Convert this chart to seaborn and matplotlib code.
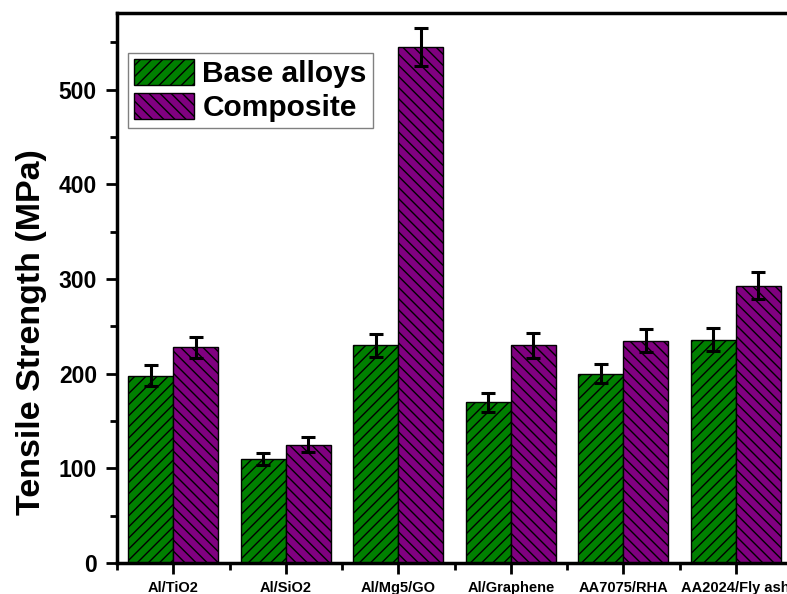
import matplotlib
matplotlib.use("Agg")
import matplotlib.pyplot as plt
from matplotlib.patches import Patch
from matplotlib.ticker import MultipleLocator
import seaborn as sns
import pandas as pd

# Tensile strength of base alloys vs. their composites (MPa)
materials = ["Al/TiO2", "Al/SiO2", "Al/Mg5/GO", "Al/Graphene", "AA7075/RHA", "AA2024/Fly ash"]
base_strength = [198, 110, 230, 170, 200, 236]
composite_strength = [228, 125, 545, 230, 235, 293]
base_error = [11, 6, 12, 10, 10, 12]
composite_error = [11, 8, 20, 13, 12, 14]
groups = ["Base alloys", "Composite"]

df = pd.DataFrame({
    "Material": materials * 2,
    "Group": [groups[0]] * len(materials) + [groups[1]] * len(materials),
    "Strength": base_strength + composite_strength,
})

sns.set_style("white")
plt.rcParams["font.family"] = ["Liberation Sans", "DejaVu Sans"]
plt.rcParams["font.weight"] = "bold"
plt.rcParams["hatch.linewidth"] = 1.0
for key in ["text.color", "axes.labelcolor", "xtick.color", "ytick.color"]:
    plt.rcParams[key] = "black"

colors = {"Base alloys": "#008000", "Composite": "#800080"}
hatches = ["///", "\\\\\\"]

fig = plt.figure(figsize=(7.87, 5.94), dpi=100)
ax = fig.add_axes([0.1487, 0.0522, 0.8577, 0.9258])

sns.barplot(data=df, x="Material", y="Strength", hue="Group", order=materials,
            hue_order=groups, palette=colors, width=0.8, errorbar=None,
            edgecolor="black", linewidth=1.0, saturation=1.0, legend=False, ax=ax)

errors = [base_error, composite_error]
for container, hatch, err in zip(ax.containers, hatches, errors):
    xs, ys = [], []
    for patch in container:
        patch.set_hatch(hatch)
        xs.append(patch.get_x() + patch.get_width() / 2)
        ys.append(patch.get_height())
    ax.errorbar(xs, ys, yerr=err, fmt="none", ecolor="black", elinewidth=2.2,
                capsize=5, capthick=2.2, zorder=5)

ax.set_xlim(-0.5, 5.5)
ax.set_ylim(0, 581)
ax.yaxis.set_major_locator(MultipleLocator(100))
ax.yaxis.set_minor_locator(MultipleLocator(50))
ax.set_xticks(range(len(materials)))
ax.set_xticks([i + 0.5 for i in range(-1, len(materials))], minor=True)
ax.set_xticklabels(materials, fontsize=10.5, fontweight="bold", color="black")
for lbl in ax.get_yticklabels():
    lbl.set_fontsize(16.5)
    lbl.set_fontweight("bold")
    lbl.set_color("black")

ax.tick_params(axis="both", which="major", direction="out", length=8, width=2,
               color="black", left=True, bottom=True)
ax.tick_params(axis="y", which="major", pad=6.5)
ax.tick_params(axis="x", which="major", pad=5)
ax.tick_params(axis="both", which="minor", direction="out", length=5, width=2,
               color="black", left=True, bottom=True)

ax.set_xlabel("")
ax.set_ylabel("Tensile Strength (MPa)", fontsize=24.5, fontweight="bold", color="black")
ax.yaxis.set_label_coords(-0.104, 0.42)

for side in ["left", "bottom", "top", "right"]:
    ax.spines[side].set_visible(True)
    ax.spines[side].set_color("black")
    ax.spines[side].set_linewidth(2.5)

handles = [Patch(facecolor=colors[g], edgecolor="black", hatch=h, label=g)
           for g, h in zip(groups, hatches)]
leg = ax.legend(handles=handles, loc="upper left", bbox_to_anchor=(0.016, 0.928),
                borderaxespad=0, fontsize=21.5, handlelength=2.0, handleheight=1.0,
                labelspacing=0.15, handletextpad=0.3, borderpad=0.2,
                fancybox=False, framealpha=1, edgecolor="#808080")
leg.get_frame().set_linewidth(1.0)
for t in leg.get_texts():
    t.set_fontweight("bold")
    t.set_color("black")

fig.savefig("out.png", dpi=100, facecolor="white")
